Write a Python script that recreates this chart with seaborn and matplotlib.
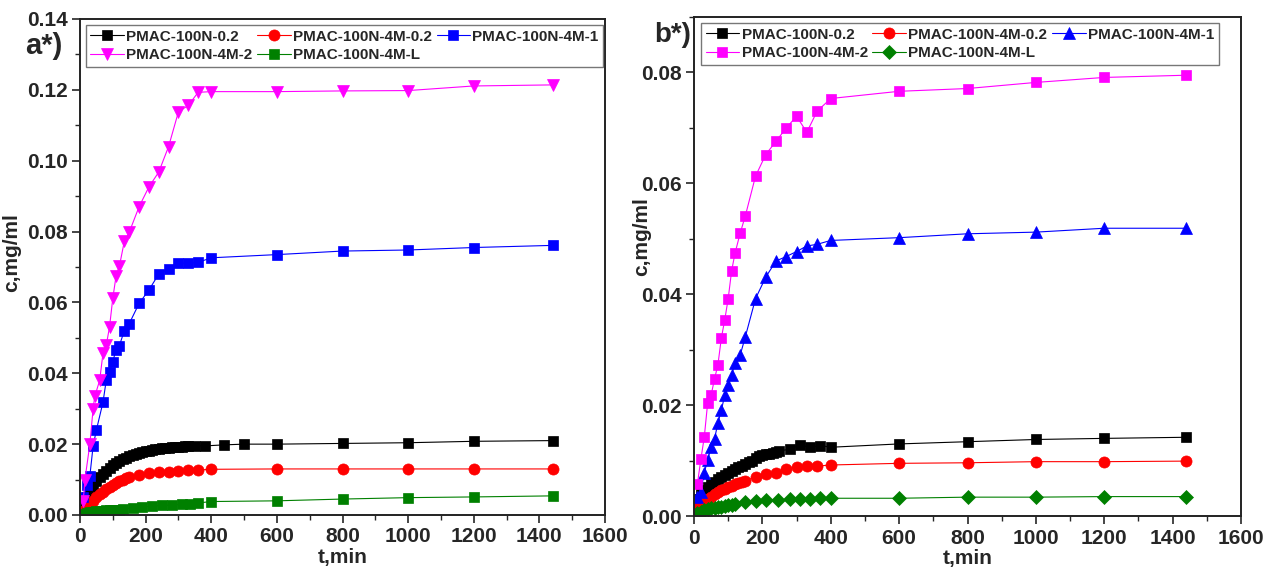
import matplotlib
matplotlib.use("Agg")
import matplotlib.pyplot as plt
import seaborn as sns
from matplotlib import font_manager
from matplotlib.ticker import MultipleLocator, FormatStrFormatter

# --- data ---
labels = ["PMAC-100N-0.2", "PMAC-100N-4M-0.2", "PMAC-100N-4M-1", "PMAC-100N-4M-2", "PMAC-100N-4M-L"]
colors = ["#000000", "#ff0000", "#0000ff", "#ff00ff", "#008000"]

# panel a
a_black_t = [10, 20, 30, 40, 50, 60, 70, 80, 90, 100, 110, 120, 130, 140, 150, 160, 170, 180, 190, 200,
             210, 220, 230, 240, 250, 260, 270, 280, 290, 300, 310, 320, 330, 350, 380, 440, 500, 600,
             800, 1000, 1200, 1440]
a_black_c = [0.0035, 0.0050, 0.0068, 0.0083, 0.0096, 0.0107, 0.0116, 0.0125, 0.0133, 0.0140, 0.0147,
             0.0153, 0.0158, 0.0162, 0.0166, 0.0169, 0.0172, 0.0175, 0.0178, 0.0180, 0.0182, 0.0184,
             0.0186, 0.0187, 0.0188, 0.0189, 0.0190, 0.0191, 0.0192, 0.0193, 0.0193, 0.0194, 0.0194,
             0.0195, 0.0195, 0.0198, 0.0200, 0.0200, 0.0202, 0.0204, 0.0208, 0.0210]
a_red_t = [10, 20, 30, 40, 50, 60, 70, 80, 90, 100, 110, 120, 130, 140, 150, 180, 210, 240, 270, 300,
           330, 360, 400, 600, 800, 1000, 1200, 1440]
a_red_c = [0.0012, 0.0022, 0.0031, 0.0040, 0.0050, 0.0058, 0.0065, 0.0073, 0.0080, 0.0085, 0.0090,
           0.0096, 0.0100, 0.0104, 0.0108, 0.0113, 0.0118, 0.0121, 0.0122, 0.0125, 0.0126, 0.0127,
           0.0129, 0.0130, 0.0130, 0.0130, 0.0130, 0.0130]
a_blue_t = [10, 20, 30, 40, 50, 70, 80, 90, 100, 110, 120, 135, 150, 180, 210, 240, 270, 300, 330, 360,
            400, 600, 800, 1000, 1200, 1440]
a_blue_c = [0.0050, 0.0085, 0.0110, 0.0195, 0.0240, 0.0318, 0.0380, 0.0403, 0.0433, 0.0467, 0.0478,
            0.0520, 0.0540, 0.0597, 0.0635, 0.0680, 0.0695, 0.0711, 0.0711, 0.0713, 0.0726, 0.0735,
            0.0745, 0.0748, 0.0755, 0.0761]
a_mag_t = [10, 15, 30, 40, 45, 60, 70, 80, 90, 100, 110, 120, 135, 150, 180, 210, 240, 270, 300, 330,
           360, 400, 600, 800, 1000, 1200, 1440]
a_mag_c = [0.0040, 0.0100, 0.0200, 0.0300, 0.0335, 0.0380, 0.0456, 0.0479, 0.0531, 0.0612, 0.0675,
           0.0702, 0.0772, 0.0798, 0.0870, 0.0926, 0.0968, 0.1040, 0.1138, 0.1156, 0.1193, 0.1195,
           0.1195, 0.1197, 0.1198, 0.1211, 0.1214]
a_green_t = [10, 20, 30, 40, 50, 60, 70, 80, 90, 100, 110, 120, 130, 160, 190, 220, 250, 280, 310, 335,
             360, 400, 600, 800, 1000, 1200, 1440]
a_green_c = [0.0004, 0.0006, 0.0008, 0.0009, 0.0010, 0.0011, 0.0012, 0.0013, 0.0013, 0.0014, 0.0015,
             0.0015, 0.0016, 0.0021, 0.0023, 0.0025, 0.0027, 0.0028, 0.0030, 0.0032, 0.0034, 0.0038,
             0.0040, 0.0045, 0.0049, 0.0051, 0.0054]

# panel b
b_black_t = [10, 20, 30, 40, 50, 60, 70, 80, 90, 100, 110, 120, 130, 140, 150, 160, 170, 180, 190, 200,
             210, 220, 230, 240, 250, 280, 310, 340, 370, 400, 600, 800, 1000, 1200, 1440]
b_black_c = [0.0030, 0.0039, 0.0046, 0.0052, 0.0057, 0.0062, 0.0066, 0.0070, 0.0074, 0.0078, 0.0081,
             0.0085, 0.0088, 0.0091, 0.0094, 0.0097, 0.0100, 0.0104, 0.0108, 0.0110, 0.0111, 0.0112,
             0.0114, 0.0116, 0.0118, 0.0120, 0.0128, 0.0124, 0.0127, 0.0124, 0.0130, 0.0134, 0.0138,
             0.0140, 0.0142]
b_red_t = [10, 20, 30, 40, 50, 60, 70, 80, 90, 100, 110, 120, 130, 140, 150, 180, 210, 240, 270, 300,
           330, 360, 400, 600, 800, 1000, 1200, 1440]
b_red_c = [0.0015, 0.0021, 0.0027, 0.0031, 0.0035, 0.0039, 0.0043, 0.0046, 0.0049, 0.0052, 0.0055,
           0.0057, 0.0059, 0.0061, 0.0064, 0.0070, 0.0075, 0.0077, 0.0084, 0.0089, 0.0090, 0.0090,
           0.0092, 0.0095, 0.0096, 0.0098, 0.0098, 0.0099]
b_blue_t = [10, 20, 30, 40, 50, 60, 70, 80, 90, 100, 110, 120, 135, 150, 180, 210, 240, 270, 300, 330,
            360, 400, 600, 800, 1000, 1200, 1440]
b_blue_c = [0.0035, 0.0044, 0.0078, 0.0101, 0.0124, 0.0139, 0.0168, 0.0191, 0.0218, 0.0236, 0.0254,
            0.0276, 0.0290, 0.0323, 0.0392, 0.0431, 0.0460, 0.0468, 0.0477, 0.0487, 0.0490, 0.0497,
            0.0502, 0.0509, 0.0512, 0.0519, 0.0519]
b_mag_t = [10, 20, 30, 40, 50, 60, 70, 80, 90, 100, 110, 120, 135, 150, 180, 210, 240, 270, 300, 330,
           360, 400, 600, 800, 1000, 1200, 1440]
b_mag_c = [0.0058, 0.0102, 0.0142, 0.0204, 0.0218, 0.0247, 0.0273, 0.0321, 0.0354, 0.0392, 0.0442,
           0.0474, 0.0510, 0.0541, 0.0613, 0.0652, 0.0676, 0.0700, 0.0721, 0.0692, 0.0730, 0.0753,
           0.0766, 0.0771, 0.0782, 0.0791, 0.0795]
b_green_t = [10, 20, 30, 40, 50, 60, 70, 80, 90, 100, 110, 120, 150, 180, 210, 245, 280, 310, 340, 370,
             400, 600, 800, 1000, 1200, 1440]
b_green_c = [0.0005, 0.0008, 0.0010, 0.0012, 0.0014, 0.0015, 0.0016, 0.0017, 0.0018, 0.0019, 0.0020,
             0.0021, 0.0026, 0.0027, 0.0028, 0.0029, 0.0030, 0.0030, 0.0030, 0.0032, 0.0032, 0.0032,
             0.0034, 0.0034, 0.0035, 0.0035]

a_series = [(a_black_t, a_black_c), (a_red_t, a_red_c), (a_blue_t, a_blue_c),
            (a_mag_t, a_mag_c), (a_green_t, a_green_c)]
b_series = [(b_black_t, b_black_c), (b_red_t, b_red_c), (b_blue_t, b_blue_c),
            (b_mag_t, b_mag_c), (b_green_t, b_green_c)]
a_markers = ["s", "o", "s", "v", "s"]
b_markers = ["s", "o", "^", "s", "D"]
a_msize = [7, 8, 7, 9, 7]
b_msize = [7, 8, 9, 7, 7]

# --- style ---
sns.set_style("ticks")
names = {f.name for f in font_manager.fontManager.ttflist}
FONT = "Liberation Sans Narrow" if "Liberation Sans Narrow" in names else "Liberation Sans"
plt.rcParams["font.family"] = [FONT, "DejaVu Sans"]
plt.rcParams["font.weight"] = "bold"

fig = plt.figure(figsize=(12.64, 5.69), dpi=100)
ax_a = fig.add_axes([80 / 1264, 54 / 569, 525 / 1264, 496 / 569])
ax_b = fig.add_axes([694 / 1264, 53 / 569, 547 / 1264, 499 / 569])


def draw_panel(ax, series, markers, msizes, ylim, leg_x, ylab_xy):
    lines = []
    for (t, c), m, ms, col, lab in zip(series, markers, msizes, colors, labels):
        sns.lineplot(x=t, y=c, ax=ax, color=col, marker=m, markersize=ms, linewidth=0.8,
                     markeredgecolor=col, markeredgewidth=0.5, label=lab, legend=False,
                     estimator=None, sort=False)
        lines.append(ax.lines[-1])
    ax.set_xlim(0, 1600)
    ax.set_ylim(*ylim)
    ax.xaxis.set_major_locator(MultipleLocator(200))
    ax.xaxis.set_minor_locator(MultipleLocator(100))
    ax.yaxis.set_major_locator(MultipleLocator(0.02))
    ax.yaxis.set_minor_locator(MultipleLocator(0.01))
    ax.yaxis.set_major_formatter(FormatStrFormatter("%.2f"))
    ax.tick_params(which="major", length=6, width=1.2, labelsize=15, direction="out",
                   top=False, right=False, pad=3)
    ax.tick_params(which="minor", length=3.5, width=1.0, direction="out", top=False, right=False)
    for lab in ax.get_xticklabels() + ax.get_yticklabels():
        lab.set_fontweight("bold")
    for sp in ax.spines.values():
        sp.set_linewidth(1.4)
        sp.set_color("#222222")
    ax.set_xlabel("t,min", fontsize=15, fontweight="bold", labelpad=1)
    ax.set_ylabel("c,mg/ml", fontsize=15, fontweight="bold")
    ax.yaxis.set_label_coords(*ylab_xy)
    # row-major order for a 3-column legend
    order = [0, 3, 1, 4, 2]
    leg = ax.legend([lines[i] for i in order], [labels[i] for i in order], ncol=3,
                    loc="upper left", bbox_to_anchor=(leg_x, 0.988),
                    frameon=True, fancybox=False, edgecolor="#555555", handlelength=2.2,
                    handletextpad=0.15, columnspacing=0.3, labelspacing=0.3,
                    borderpad=0.3, borderaxespad=0.0, prop={"weight": "bold", "size": 11})
    leg.get_frame().set_linewidth(1.0)
    return leg


draw_panel(ax_a, a_series, a_markers, a_msize, (0, 0.14), 0.011, (-0.112, 0.53))
draw_panel(ax_b, b_series, b_markers, b_msize, (0, 0.09), 0.013, (-0.078, 0.56))

fig.text(44 / 1264, 1 - 46 / 569, "a*)", fontsize=21, fontweight="bold", ha="center", va="center")
fig.text(673 / 1264, 1 - 35 / 569, "b*)", fontsize=20, fontweight="bold", ha="center", va="center")

fig.savefig("out.png", dpi=100)
